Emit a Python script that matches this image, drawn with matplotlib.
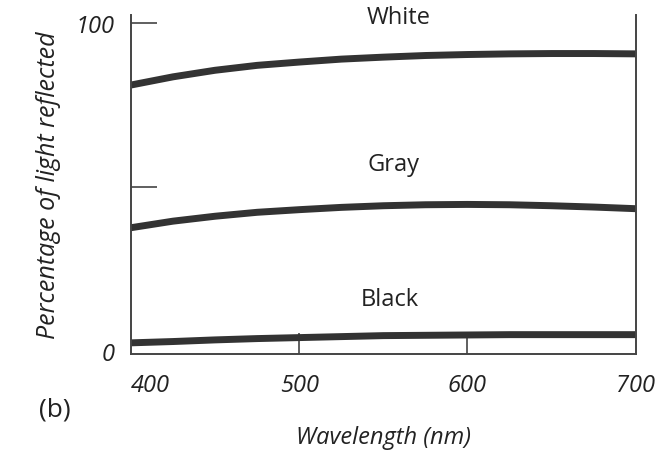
import matplotlib
matplotlib.use("Agg")
import matplotlib.pyplot as plt

plt.rcParams['font.family'] = ['Open Sans', 'DejaVu Sans']

wavelength = [400, 425, 450, 475, 500, 525, 550, 575, 600, 625, 650, 675, 700]
white = [81, 83.5, 85.5, 87, 88, 88.9, 89.5, 90, 90.3, 90.5, 90.6, 90.6, 90.5]
gray = [37.5, 39.5, 41, 42.2, 43, 43.7, 44.2, 44.5, 44.6, 44.5, 44.2, 43.8, 43.3]
black = [2.4, 2.8, 3.3, 3.7, 4.0, 4.3, 4.6, 4.7, 4.8, 4.9, 4.9, 4.9, 4.9]
series = [("White", white, 559, 101.8), ("Gray", gray, 556, 57), ("Black", black, 554, 15.8)]
x_ticks = [400, 500, 600, 700]
y_ticks = [0, 50, 100]
y_labels = ["0", "", "100"]

ink = "#333333"
fig = plt.figure(figsize=(6.65, 4.56), dpi=100)
ax = fig.add_axes([0.197, 0.2215, 0.759, 0.7445])

for name, vals, label_x, label_y in series:
    ax.plot(wavelength, vals, color=ink, lw=5, solid_capstyle="butt")
    ax.text(label_x, label_y, name, fontsize=17, color="#222222", ha="center", va="center")

ax.set_xlim(400, 700)
ax.set_ylim(-1, 102.5)
ax.spines["top"].set_visible(False)
for s in ["left", "right", "bottom"]:
    ax.spines[s].set_linewidth(1.4)
    ax.spines[s].set_color("#444444")

ax.set_xticks(x_ticks)
ax.set_xticklabels([str(v) for v in x_ticks], fontsize=17, style="italic")
ax.set_yticks(y_ticks)
ax.set_yticklabels(y_labels, fontsize=17, style="italic")
ax.tick_params(axis="x", direction="in", length=15, width=1.2, colors="#444444", pad=14,
               labelcolor="#222222")
ax.tick_params(axis="y", direction="in", length=19, width=1.2, colors="#444444", pad=12,
               labelcolor="#222222")
xt = ax.xaxis.get_major_ticks()
xt[0].tick1line.set_visible(False)
xt[-1].tick1line.set_visible(False)
ax.yaxis.get_major_ticks()[0].tick1line.set_visible(False)
ax.get_xticklabels()[0].set_ha("left")

ax.set_xlabel("Wavelength (nm)", fontsize=17, style="italic", color="#222222", labelpad=20)
ax.set_ylabel("Percentage of light reflected", fontsize=18, style="italic", color="#222222",
              labelpad=10)
fig.text(0.083, 0.1, "(b)", fontsize=19, color="#222222", ha="center", va="center")

fig.savefig("out.png", dpi=100)
